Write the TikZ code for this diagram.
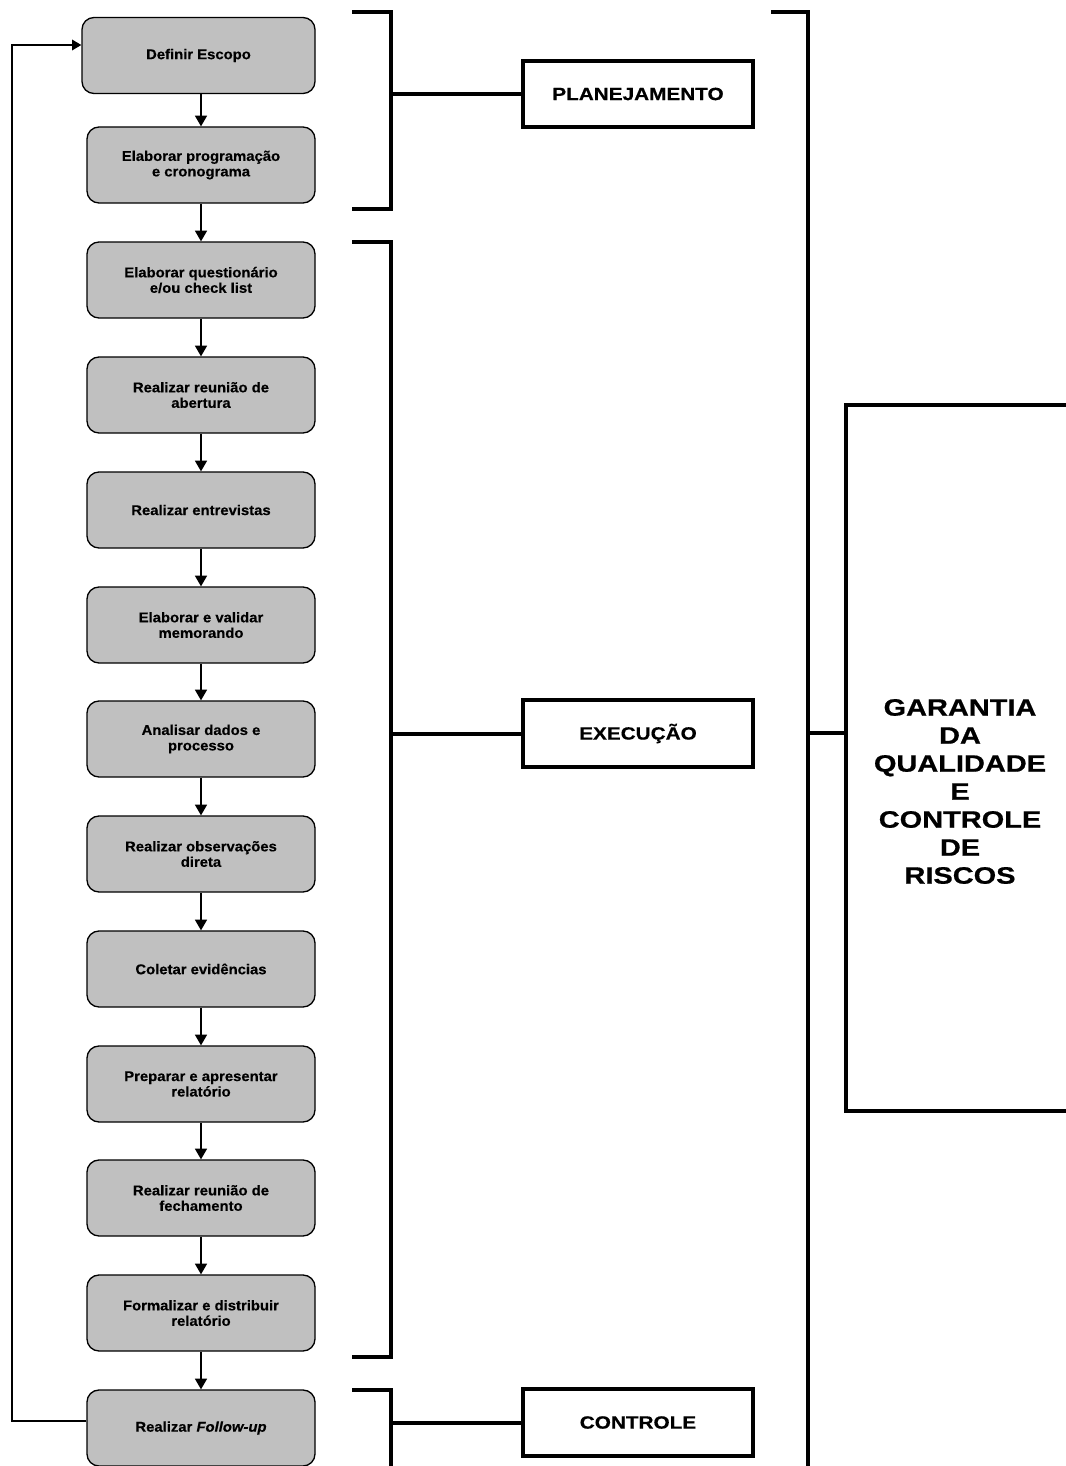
\documentclass[tikz,border=0pt]{standalone}
\usepackage{fontspec}
\setmainfont{Liberation Sans}
\newfontfamily\boxfont[FakeStretch=1.05,FakeBold=0.4]{Liberation Sans}
\newfontfamily\labfont[FakeStretch=1.17,FakeBold=0.6]{Liberation Sans}
\newfontfamily\bigfont[FakeStretch=1.22,FakeBold=0.7]{Liberation Sans}
\usetikzlibrary{arrows.meta}
\definecolor{boxgray}{HTML}{C0C0C0}
\tikzset{
  stepbox/.style={draw, line width=1pt, fill=boxgray, rounded corners=9pt,
    minimum width=171pt, minimum height=57pt, align=center, inner sep=2pt,
    font=\boxfont\bfseries\fontsize{10.6}{11.6}\selectfont},
  flow/.style={line width=1.1pt, -{Triangle[length=8pt,width=9pt]}},
  loopline/.style={line width=1pt, -{Triangle[length=7pt,width=8pt]}},
  brk/.style={line width=3pt},
  phasebox/.style={draw, line width=3pt, fill=white, minimum width=172.5pt,
    minimum height=50pt, align=center,
    font=\labfont\bfseries\fontsize{13.3}{15}\selectfont},
  bigbox/.style={draw, line width=3pt, minimum width=172.5pt, minimum height=529.5pt},
  bigtext/.style={align=center, inner sep=0pt,
    font=\bigfont\bfseries\fontsize{17.8}{21}\selectfont}
}
\begin{document}
\begin{tikzpicture}[x=0.75pt, y=-0.75pt]
\useasboundingbox (0,0) rectangle (1066,1466);
\clip (0,0) rectangle (1066,1466);
\fill[white] (0,0) rectangle (1066,1466);

% flow boxes
\node[stepbox, minimum width=174.75pt] (b1) at (198.5,55.5) {Definir Escopo};
\node[stepbox] (b2) at (201,165) {Elaborar programação\\e cronograma};
\node[stepbox] (b3) at (201,280) {Elaborar questionário\\e/ou check list};
\node[stepbox] (b4) at (201,395) {Realizar reunião de\\abertura};
\node[stepbox] (b5) at (201,510) {Realizar entrevistas};
\node[stepbox] (b6) at (201,625) {Elaborar e validar\\memorando};
\node[stepbox] (b7) at (201,739) {Analisar dados e\\processo};
\node[stepbox] (b8) at (201,854) {Realizar observações\\direta};
\node[stepbox] (b9) at (201,969) {Coletar evidências};
\node[stepbox] (b10) at (201,1084) {Preparar e apresentar\\relatório};
\node[stepbox] (b11) at (201,1198) {Realizar reunião de\\fechamento};
\node[stepbox] (b12) at (201,1313) {Formalizar e distribuir\\relatório};
\node[stepbox] (b13) at (201,1428) {Realizar \textit{Follow-up}};

% arrows
\draw[flow] (b1.south -| b2.north) -- (b2.north);
\foreach \a/\b in {b2/b3,b3/b4,b4/b5,b5/b6,b6/b7,b7/b8,b8/b9,b9/b10,b10/b11,b11/b12,b12/b13}
  \draw[flow] (\a.south) -- (\b.north);

% feedback loop
\coordinate (loopB) at (12,1421);
\coordinate (loopT) at (12,45);
\draw[loopline] (loopB -| b13.west) -- (loopB) -- (loopT) -- (loopT -| b1.west);

% phase labels
\node[phasebox] (plan) at (638,94) {PLANEJAMENTO};
\node[phasebox] (exec) at (638,733.5) {EXECUÇÃO};
\node[phasebox] (ctrl) at (638,1422.5) {CONTROLE};

% brackets
\draw[brk] (352,12) -| (391,209) -- (352,209);
\draw[brk] (352,242) -| (391,1357) -- (352,1357);
\draw[brk] (352,1390) -| (391,1490);
\coordinate (pb) at (391,94);
\coordinate (eb) at (391,733.5);
\coordinate (cb) at (391,1422.5);
\draw[brk] (pb) -- (plan.west);
\draw[brk] (eb) -- (exec.west);
\draw[brk] (cb) -- (ctrl.west);

% big bracket and quality box
\draw[brk] (771,12) -| (808,1490);
\node[bigbox] (gar) at (961,758) {};
\node[bigtext] (gart) at (960,791.5) {GARANTIA\\DA\\QUALIDADE\\E\\CONTROLE\\DE\\RISCOS};
\coordinate (gb) at (808,733);
\draw[brk] (gb) -- (gb -| gar.west);
\end{tikzpicture}
\end{document}
